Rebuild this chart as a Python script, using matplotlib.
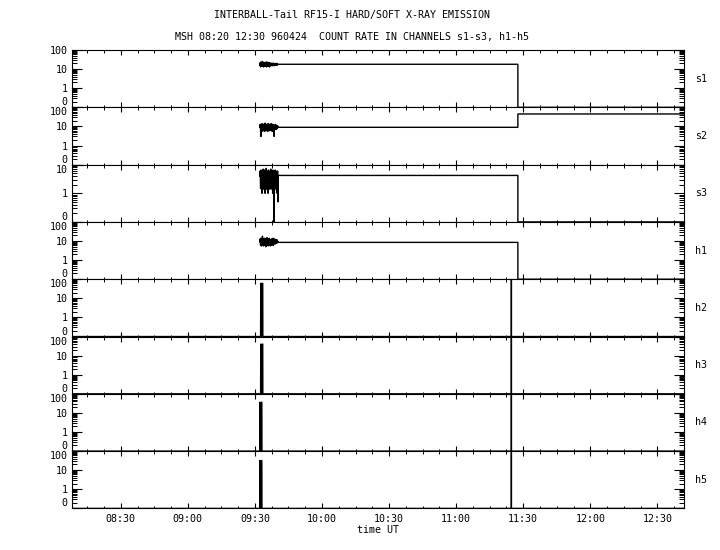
import numpy as np
import matplotlib
matplotlib.use('Agg')
import matplotlib.pyplot as plt
from matplotlib.ticker import MultipleLocator, FuncFormatter, LogLocator, NullFormatter

plt.rcParams['font.family'] = ['DejaVu Sans Mono', 'DejaVu Sans']
plt.rcParams['font.size'] = 7.2

# time in minutes of day (UT)
t_axis = [488.2, 761.9]
block_t = [572.2, 580.3]          # noisy interval 09:32 - 09:40
step_t = 687.6                     # 11:27.6 step of s/h1 channels
end_t = 765.0

channels = ['s1', 's2', 's3', 'h1', 'h2', 'h3', 'h4', 'h5']

# count rates
s1_block = [16, 22, 13, 24, 15, 21, 14, 25, 17, 20, 13, 23, 15, 22, 14, 19, 16,
            24, 13, 21, 15, 23, 14, 20, 16, 22, 13, 19, 17, 21, 15, 20, 16, 19,
            15, 21, 16, 20, 15, 19, 17, 20, 16, 19, 17, 20, 16, 19, 18]
s2_block = [9, 13, 6, 3, 12, 6, 14, 5.5, 11, 7, 13, 6, 12, 5.5, 15, 7, 11,
            6, 13, 8, 12, 5.5, 14, 7, 11, 6, 13, 8, 12, 6, 14, 7, 11, 5.5,
            13, 8, 12, 6, 3, 11, 7, 13, 8, 12, 7, 10, 8, 11, 9]
s3_block = [4, 6, 1.5, 6.5, 1.4, 5.5, 1.0, 6, 2, 7, 1.4, 5.5, 1.8, 6.5, 1.0, 6, 1.5,
            7.4, 1.4, 5.5, 2, 6, 1.0, 6.5, 1.5, 5.5, 1.4, 6, 1.8, 7, 1.4, 6, 1.5,
            5.5, 1.0, 6.5, 1.4, 6, 0, 5.5, 1.4, 6.5, 1.5, 6, 1.4, 5.5, 1.0, 6, 0.5]
h1_block = [9, 13, 6, 14, 5.5, 12, 7, 18, 6, 13, 5.5, 12, 7, 14, 6, 11, 5,
            13, 7, 15, 6, 12, 5.5, 13, 7, 14, 6, 12, 5.5, 11, 7, 13, 6, 12,
            7, 14, 6, 11, 7, 13, 8, 12, 7, 11, 8, 12, 8, 10, 9]

s_level_before = [18, 9, 4.2, 8.5]   # s1, s2, s3, h1 after the noisy block
s_level_after = [0, 45, 0, 0]        # after the step at 11:27

spike_t = [572.6, 572.6, 572.2, 572.2]   # h2..h5 burst time
spike_val = [61, 40, 36, 32]
line_t = 684.7                            # 11:24.7 single point in h2..h5
line_val = 300

ymax = [100, 100, 10, 100, 100, 100, 100, 100]


def fmt_time(m, pos):
    m = int(round(m))
    return '%02d:%02d' % (m // 60, m % 60)


fig, axes = plt.subplots(8, 1, figsize=(7.2, 5.5), dpi=100, sharex=True,
                         gridspec_kw=dict(hspace=0))
fig.subplots_adjust(left=0.1, right=0.95, top=0.909, bottom=0.0756)

blocks = [s1_block, s2_block, s3_block, h1_block]
for i, ax in enumerate(axes):
    if i < 4:
        bv = blocks[i]
        bt = np.linspace(block_t[0], block_t[1], len(bv))
        t = np.concatenate([bt, [block_t[1] + 0.05, step_t, step_t, end_t]])
        v = np.concatenate([bv, [s_level_before[i], s_level_before[i],
                                 s_level_after[i], s_level_after[i]]])
    else:
        k = i - 4
        t = [t_axis[0], spike_t[k] - 0.05, spike_t[k], spike_t[k] + 0.3,
             spike_t[k] + 0.6, spike_t[k] + 0.9, spike_t[k] + 0.95,
             line_t - 0.01, line_t, line_t + 0.01, end_t]
        v = [0, 0, spike_val[k], 0, spike_val[k], spike_val[k], 0,
             0, line_val, 0, 0]
    ax.plot(t, np.maximum(v, 0.1), color='black', lw=1.0)

    ax.set_yscale('log')
    ax.set_ylim(0.1, ymax[i])
    ax.set_xlim(*t_axis)
    if ymax[i] == 100:
        ax.set_yticks([0.1, 1, 10, 100], ['0', '1', '10', '100'])
    else:
        ax.set_yticks([0.1, 1, 10], ['0', '1', '10'])
    ax.yaxis.set_minor_locator(LogLocator(subs=np.arange(2, 10)))
    ax.yaxis.set_minor_formatter(NullFormatter())
    ticks = ax.yaxis.get_major_ticks()
    ticks[0].label1.set_verticalalignment('bottom')
    if i > 0:
        ticks[-1].label1.set_verticalalignment('top')

    ax.xaxis.set_major_locator(MultipleLocator(30))
    ax.xaxis.set_minor_locator(MultipleLocator(7.5))
    ax.xaxis.set_major_formatter(FuncFormatter(fmt_time))

    ax.tick_params(axis='y', which='major', direction='in', length=7.5,
                   width=0.8, left=True, right=True, pad=3)
    ax.tick_params(axis='y', which='minor', direction='in', length=3.3,
                   width=0.7, left=True, right=True)
    ax.tick_params(axis='x', which='major', direction='in', length=3.6,
                   width=0.8, top=True, bottom=True, pad=4)
    ax.tick_params(axis='x', which='minor', direction='in', length=1.8,
                   width=0.7, top=True, bottom=True)
    for sp in ax.spines.values():
        sp.set_linewidth(0.8)

    ax.text(1.018, 0.5, channels[i], transform=ax.transAxes,
            ha='left', va='center')

axes[-1].set_xlabel('time UT', labelpad=1)

fig.text(0.489, 0.972, 'INTERBALL-Tail RF15-I HARD/SOFT X-RAY EMISSION',
         ha='center', va='center')
fig.text(0.489, 0.932, 'MSH 08:20 12:30 960424  COUNT RATE IN CHANNELS s1-s3, h1-h5',
         ha='center', va='center')

fig.savefig('out.png', dpi=100)
